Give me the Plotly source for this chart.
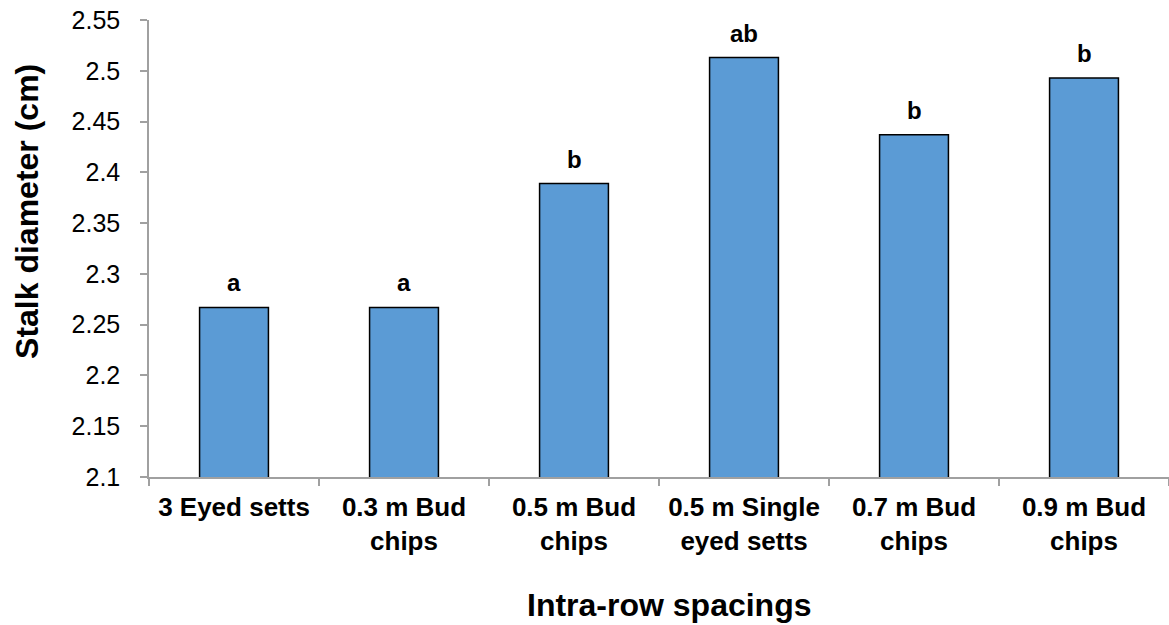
import plotly.graph_objects as go

categories = ["3 Eyed setts", "0.3 m Bud<br>chips", "0.5 m Bud<br>chips",
              "0.5 m Single<br>eyed setts", "0.7 m Bud<br>chips", "0.9 m Bud<br>chips"]
values = [2.267, 2.267, 2.389, 2.513, 2.437, 2.493]
letters = ["a", "a", "b", "ab", "b", "b"]
ytick_vals = [2.1, 2.15, 2.2, 2.25, 2.3, 2.35, 2.4, 2.45, 2.5, 2.55]
ytick_text = ["2.1", "2.15", "2.2", "2.25", "2.3", "2.35", "2.4", "2.45", "2.5", "2.55"]

FONT = "Liberation Sans, Arial, sans-serif"

fig = go.Figure()
fig.add_trace(go.Bar(
    x=categories, y=values, width=0.405,
    marker=dict(color="#5B9BD5", line=dict(color="#000000", width=1.5)),
))

for c, v, t in zip(categories, values, letters):
    fig.add_annotation(x=c, y=v, text=t, showarrow=False, yanchor="bottom", yshift=9,
                       font=dict(family=FONT, size=24, color="black", weight="bold"))

# axis titles
fig.add_annotation(text="Stalk diameter (cm)", xref="paper", yref="paper",
                   x=-0.1196, y=0.58, xanchor="center", yanchor="middle", textangle=-90,
                   showarrow=False, font=dict(family=FONT, size=32, color="black", weight="bold"))
fig.add_annotation(text="Intra-row spacings", xref="paper", yref="paper",
                   x=0.51, y=-0.28, xanchor="center", yanchor="middle",
                   showarrow=False, font=dict(family=FONT, size=32, color="black", weight="bold"))

fig.update_layout(
    width=1169, height=625,
    margin=dict(l=149, r=0, t=20, b=148),
    plot_bgcolor="white", paper_bgcolor="white",
    showlegend=False,
    font=dict(family=FONT, color="black"),
)
fig.update_xaxes(
    showline=True, linecolor="#A0A0A0", linewidth=1.5,
    ticks="outside", tickson="boundaries", ticklen=7, tickcolor="#A0A0A0", tickwidth=1.5,
    tickfont=dict(family=FONT, size=26, color="black", weight="bold"),
    ticklabelstandoff=6,
    showgrid=False,
)
fig.update_yaxes(
    range=[2.1, 2.55], tickvals=ytick_vals, ticktext=ytick_text,
    showline=True, linecolor="#A0A0A0", linewidth=1.5,
    ticks="outside", ticklen=7, tickcolor="#A0A0A0", tickwidth=1.5,
    tickfont=dict(family=FONT, size=25, color="black"),
    ticklabelstandoff=15,
    showgrid=False, zeroline=False,
)

fig.write_html("out.html")
